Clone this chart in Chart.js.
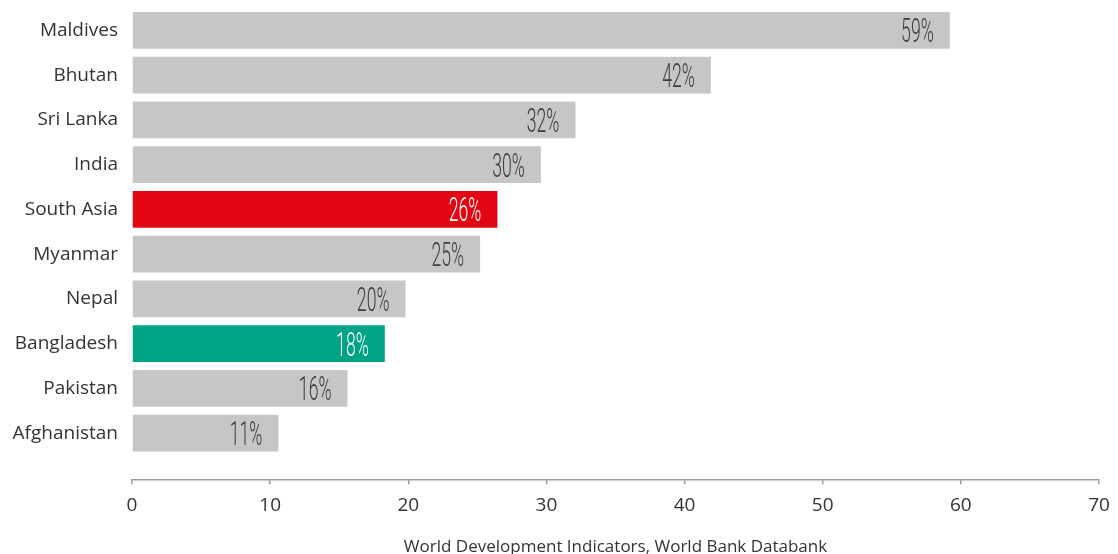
<!DOCTYPE html>
<html>
<head>
<meta charset="utf-8">
<script src="https://cdn.jsdelivr.net/npm/chart.js@4.4.1/dist/chart.umd.min.js"></script>
<style>
  html, body { margin: 0; padding: 0; background: #fff; }
  #wrap { width: 1118px; height: 554px; position: relative; }
</style>
</head>
<body>
<div id="wrap"><canvas id="chart"></canvas></div>
<script>
// Share of population, South Asian countries (%)
const countries = ["Maldives", "Bhutan", "Sri Lanka", "India", "South Asia",
  "Myanmar", "Nepal", "Bangladesh", "Pakistan", "Afghanistan"];
const shares = [59.2, 41.9, 32.1, 29.6, 26.45, 25.2, 19.8, 18.3, 15.6, 10.6];
const barColors = ["#c6c6c6", "#c6c6c6", "#c6c6c6", "#c6c6c6", "#e30613",
  "#c6c6c6", "#c6c6c6", "#00a383", "#c6c6c6", "#c6c6c6"];
const labelColors = ["#3d3d3d", "#3d3d3d", "#3d3d3d", "#3d3d3d", "#ffffff",
  "#3d3d3d", "#3d3d3d", "#ffffff", "#3d3d3d", "#3d3d3d"];
const xTicks = [0, 10, 20, 30, 40, 50, 60, 70];
const sourceNote = "World Development Indicators, World Bank Databank";

const textFont = "'Open Sans', 'Noto Sans', sans-serif";

// percentage labels inside the bar ends, in a narrow light face
const barLabels = {
  id: "barLabels",
  afterDatasetsDraw(chart) {
    const ctx = chart.ctx;
    const meta = chart.getDatasetMeta(0);
    const squeeze = 0.52;
    ctx.save();
    ctx.font = "300 34px Roboto, sans-serif";
    ctx.textAlign = "right";
    ctx.textBaseline = "alphabetic";
    meta.data.forEach((bar, i) => {
      ctx.save();
      ctx.fillStyle = labelColors[i];
      ctx.translate(bar.x - 16, bar.y + 12);
      ctx.scale(squeeze, 1);
      ctx.fillText(Math.round(shares[i]) + "%", 0, 0);
      ctx.restore();
    });
    ctx.restore();
  }
};

new Chart(document.getElementById("chart"), {
  type: "bar",
  data: {
    datasets: [{
      data: shares.map((v, i) => ({ x: v, y: i })),
      backgroundColor: barColors,
      barPercentage: 0.82,
      categoryPercentage: 1,
      clip: false
    }]
  },
  options: {
    indexAxis: "y",
    responsive: true,
    maintainAspectRatio: false,
    animation: false,
    layout: { padding: { top: 8, right: 19, bottom: 0, left: 0 } },
    plugins: {
      legend: { display: false },
      tooltip: { enabled: false }
    },
    scales: {
      x: {
        type: "linear",
        min: 0,
        max: 70,
        offset: false,
        afterBuildTicks: (scale) => { scale.ticks = xTicks.map(v => ({ value: v })); },
        afterFit: (scale) => { scale.paddingLeft = 0; scale.paddingRight = 0; },
        border: { display: true, color: "#9a9a9a", width: 1.5 },
        grid: { drawOnChartArea: false, drawTicks: true, tickLength: 4, color: "#9a9a9a", lineWidth: 1.5 },
        ticks: { padding: 10, color: "#333", font: { family: textFont, size: 19 } },
        title: {
          display: true,
          text: sourceNote,
          color: "#333",
          font: { family: textFont, size: 17, lineHeight: 0.8 },
          padding: { top: 13.4, bottom: 0 }
        }
      },
      y: {
        type: "linear",
        reverse: true,
        offset: false,
        min: -0.5,
        max: 10.05,
        afterBuildTicks: (scale) => { scale.ticks = countries.map((c, i) => ({ value: i })); },
        afterFit: (scale) => {
          scale.width = 132;
          scale.paddingTop = 0;
          scale.paddingBottom = 0;
        },
        border: { display: false },
        grid: { display: false, drawTicks: false },
        ticks: {
          padding: 14,
          color: "#333",
          font: { family: textFont, size: 19 },
          callback: (v) => countries[v] ?? ""
        }
      }
    }
  },
  plugins: [barLabels]
});
</script>
</body>
</html>
